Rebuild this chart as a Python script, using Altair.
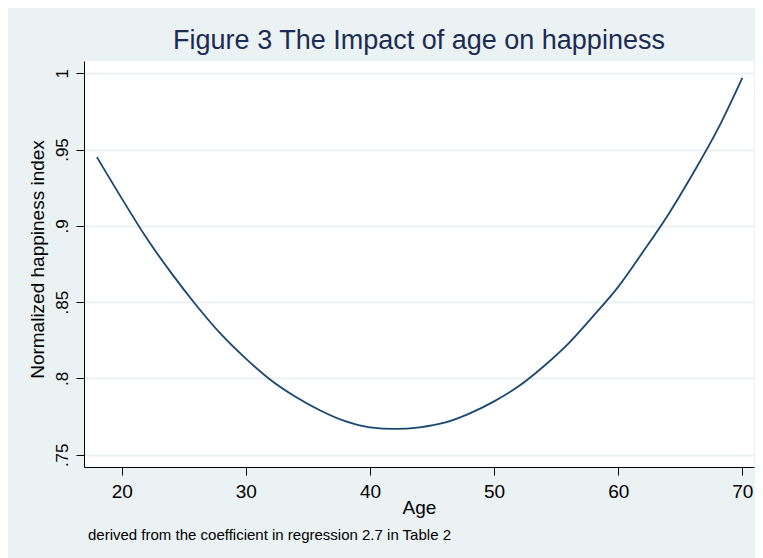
import altair as alt
import pandas as pd

# Values
ages = [18, 20, 22, 24, 26, 28, 30, 32, 34, 36, 38, 40, 42, 44,
        46, 48, 50, 52, 54, 56, 58, 60, 62, 64, 66, 68, 70]
happiness = [0.945, 0.918, 0.892, 0.869, 0.848, 0.829, 0.813, 0.799, 0.788,
             0.779, 0.772, 0.768, 0.767, 0.768, 0.771, 0.777, 0.785, 0.795,
             0.808, 0.823, 0.841, 0.860, 0.883, 0.907, 0.934, 0.963, 0.997]
x_ticks = [20, 30, 40, 50, 60, 70]
y_ticks = [0.75, 0.8, 0.85, 0.9, 0.95, 1.0]
title_text = "Figure 3 The Impact of age on happiness"
x_title = "Age"
y_title = "Normalized happiness index"
note_text = "derived from the coefficient in regression 2.7 in Table 2"

df = pd.DataFrame({"age": ages, "happiness": happiness})

FONT = "Liberation Sans"
NAVY = "#1A476F"
BG = "#EAF2F3"

line = alt.Chart(df).mark_line(color=NAVY, strokeWidth=1.8, interpolate="monotone").encode(
    x=alt.X("age:Q",
            scale=alt.Scale(domain=[16.96, 70.94], nice=False, zero=False),
            axis=alt.Axis(values=x_ticks, title=x_title, grid=False,
                          domainColor="black", domainWidth=1,
                          tickColor="black", tickSize=8, tickWidth=1,
                          labelFont=FONT, labelFontSize=19, labelColor="black",
                          labelBaseline="alphabetic", labelPadding=22.5,
                          labelFlush=False,
                          titleFont=FONT, titleFontSize=19, titleFontWeight="normal",
                          titleColor="black", titleBaseline="alphabetic",
                          titleY=46, titleAlign="center")),
    y=alt.Y("happiness:Q",
            scale=alt.Scale(domain=[0.742, 1.008], nice=False, zero=False),
            axis=alt.Axis(values=y_ticks, title=y_title, grid=True,
                          gridColor=BG, gridWidth=2,
                          domainColor="black", domainWidth=1,
                          tickColor="black", tickSize=8, tickWidth=1,
                          labelExpr="datum.value >= 0.999 ? '1' : slice(format(datum.value, '.2~f'), 1)",
                          labelFont=FONT, labelFontSize=17, labelColor="black",
                          labelAngle=270, labelAlign="center",
                          labelBaseline="alphabetic", labelPadding=8.5,
                          labelFlush=False,
                          titleFont=FONT, titleFontSize=19, titleFontWeight="normal",
                          titleColor="black", titleAngle=270, titleAlign="center",
                          titleBaseline="alphabetic", titleX=-41, titleY=198)),
)

note = alt.Chart(pd.DataFrame({"t": [note_text]})).mark_text(
    font=FONT, fontSize=15, color="black", align="left", baseline="alphabetic"
).encode(x=alt.value(4), y=alt.value(479), text="t:N")

chart = alt.layer(line, note).properties(
    width=670, height=406,
    padding={"left": 76, "top": 53, "right": 1, "bottom": 99},
    autosize=alt.AutoSizeParams(type="none"),
    title=alt.TitleParams(text=title_text, font=FONT, fontSize=27,
                          fontWeight="normal", color="#1C2B53",
                          anchor="middle", baseline="alphabetic", offset=-15),
).configure(background=BG).configure_view(fill="white", stroke=None)

chart.save("out.html", embed_options={"renderer": "svg", "actions": False})
